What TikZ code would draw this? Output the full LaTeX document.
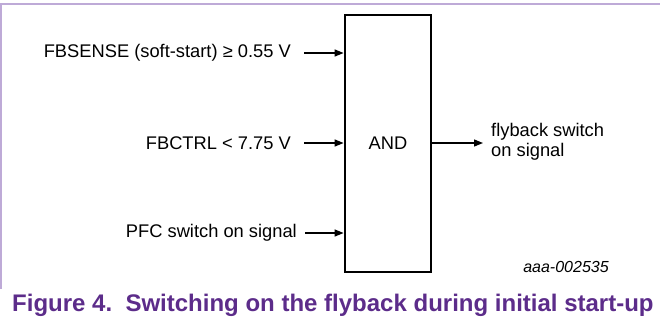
\documentclass[tikz,border=0pt]{standalone}
\usepackage{fontspec}
\setmainfont{Liberation Sans}
\usetikzlibrary{arrows.meta}
\definecolor{capPurple}{RGB}{92,44,138}
\definecolor{framePurple}{RGB}{190,170,215}
\tikzset{
  lbl/.style={inner sep=0pt, font=\fontsize{18.3}{20}\selectfont},
  sig/.style={line width=1.3pt, -{Triangle[length=9pt,width=7pt]}},
  gatebox/.style={draw, line width=2.8pt, minimum width=86pt, minimum height=257pt, inner sep=0pt, font=\fontsize{18.3}{20}\selectfont},
  frameline/.style={draw=framePurple}
}
\begin{document}
\begin{tikzpicture}[x=1pt,y=-1pt]
\useasboundingbox (0,0) rectangle (660,325);
% frame
\draw[frameline, line width=2pt] (0,3.5) -- (660,3.5);
\draw[frameline, line width=1.5pt] (1,3.5) -- (1,289);
% gate
\node[gatebox] (and) at (388,143.5) {AND};
% inputs
\node[lbl, anchor=east] (fbs) at (291,53) {FBSENSE (soft-start) ≥ 0.55 V};
\node[lbl, anchor=east] (fbc) at (291,143) {FBCTRL < 7.75 V};
\node[lbl, anchor=east] (pfc) at (297,233) {PFC switch on signal};
\draw[sig, shorten <=13pt] (fbs.east) -- (fbs.east -| and.west);
\draw[sig, shorten <=13pt] (fbc.east) -- (fbc.east -| and.west);
\draw[sig, shorten <=8pt] (pfc.east) -- (pfc.east -| and.west);
% output
\node[lbl, anchor=west, align=left] (out) at (491,142) {flyback switch\\on signal};
\draw[sig, shorten >=8pt] (and.east |- fbc.east) -- (out.west |- fbc.east);
% id
\node[inner sep=0pt, font=\fontsize{16}{18}\selectfont\itshape] (id) at (566,267) {aaa-002535};
% caption
\node[inner sep=0pt, anchor=base west, text=capPurple, font=\fontsize{24}{27}\selectfont\bfseries] (cap) at (12,311) {Figure 4.\ \ Switching on the flyback during initial start-up};
\end{tikzpicture}
\end{document}
